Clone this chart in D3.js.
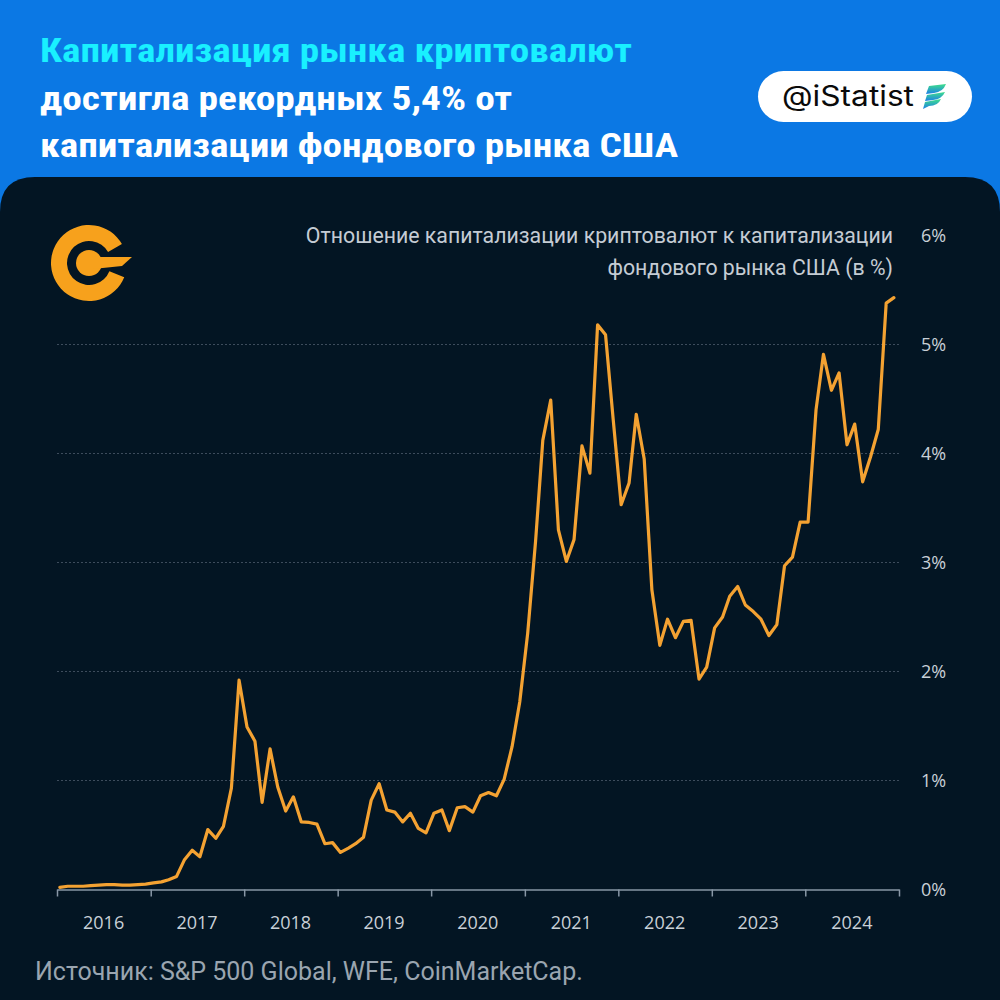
<!DOCTYPE html>
<html><head><meta charset="utf-8">
<script src="https://cdn.jsdelivr.net/npm/d3@7"></script>
<style>html,body{margin:0;padding:0;background:#0b78e4;}svg{display:block;}</style>
</head><body>
<svg id="c" width="1000" height="1000"></svg>
<script>
// ---- data ----
const startYear = 2016;
const values = [
 0.02,0.03,0.03,0.03,0.035,0.04,0.045,0.045,0.04,0.04,0.045,0.05,
 0.06,0.07,0.09,0.12,0.27,0.36,0.30,0.55,0.47,0.58,0.93,1.92,
 1.49,1.36,0.80,1.29,0.94,0.72,0.85,0.62,0.615,0.60,0.42,0.43,
 0.34,0.38,0.42,0.48,0.82,0.97,0.73,0.71,0.62,0.70,0.56,0.52,
 0.70,0.73,0.54,0.75,0.76,0.71,0.86,0.89,0.86,1.01,1.31,1.72,
 2.35,3.20,4.12,4.49,3.30,3.01,3.21,4.07,3.82,5.18,5.09,4.31,
 3.53,3.73,4.36,3.95,2.75,2.24,2.48,2.31,2.46,2.47,1.93,2.04,
 2.40,2.50,2.69,2.78,2.61,2.55,2.48,2.33,2.43,2.97,3.05,3.37,
 3.37,4.40,4.91,4.58,4.74,4.08,4.27,3.74,3.97,4.22,5.38,5.43
];
const yearLabels = ["2016","2017","2018","2019","2020","2021","2022","2023","2024"];
const yTicks = [0,1,2,3,4,5,6];
const titleLines = ["Капитализация рынка криптовалют","достигла рекордных 5,4% от","капитализации фондового рынка США"];
const subtitleLines = ["Отношение капитализации криптовалют к капитализации","фондового рынка США (в %)"];
const sourceText = "Источник: S&P 500 Global, WFE, CoinMarketCap.";
const badgeText = "@iStatist";

const svg = d3.select("#c");
// background
svg.append("rect").attr("width",1000).attr("height",1000).attr("fill","#0b78e4");
svg.append("path").attr("fill","#031523")
  .attr("d","M0,212 Q0,177 35,177 L965,177 Q1000,177 1000,212 L1000,1000 L0,1000 Z");

// title
const tw = [592,472,638];
svg.selectAll("text.title").data(titleLines).join("text")
  .attr("x",40).attr("y",(d,i)=>62+i*47.5)
  .attr("fill",(d,i)=>i===0?"#19f0ff":"#ffffff")
  .attr("font-family","'Liberation Sans Narrow','Roboto Condensed','Arial Narrow',Roboto,sans-serif")
  .attr("font-weight","bold").attr("font-size",33)
  .attr("textLength",(d,i)=>tw[i]).attr("lengthAdjust","spacingAndGlyphs")
  .text(d=>d);

// badge
svg.append("rect").attr("x",758).attr("y",71).attr("width",214).attr("height",51).attr("rx",25.5).attr("fill","#ffffff");
svg.append("text").attr("x",782).attr("y",106).attr("font-family","Inter,Roboto,sans-serif").attr("font-size",28)
  .attr("fill","#0a0a0a").attr("textLength",132).attr("lengthAdjust","spacingAndGlyphs").text(badgeText);
const defs = svg.append("defs");
const g1 = defs.append("linearGradient").attr("id","lg").attr("x1","0").attr("y1","0").attr("x2","0").attr("y2","1");
g1.append("stop").attr("offset","0").attr("stop-color","#3fe08a");
g1.append("stop").attr("offset","1").attr("stop-color","#1c7fe6");
const leaf = svg.append("g").attr("fill","url(#lg)");
leaf.append("path").attr("d","M929,86 L946,84 Q943,92 934,93 L926,94 Z");
leaf.append("path").attr("d","M927,95 L945,92 Q942,99 933,100 L925,101 Z");
leaf.append("path").attr("d","M925,102 L941,99 Q938,106 929,106 L923,109 Z");

// logo
const logo = svg.append("g").attr("transform","translate(89,263)").attr("fill","#f7a11c");
logo.append("path").attr("d", d3.arc()({innerRadius:22,outerRadius:38,startAngle:112*Math.PI/180,endAngle:420*Math.PI/180}));
logo.append("circle").attr("r",13);
logo.append("path").attr("d","M4,-6 L43,-6 L33,3 L4,6 Z");

// scales
const x = d3.scaleUtc().domain([new Date(Date.UTC(startYear,0,1)), new Date(Date.UTC(startYear+9,0,1))]).range([57,899]);
const y = d3.scaleLinear().domain([0,6]).range([889.5,235.5]);
const dates = values.map((v,i)=>new Date(Date.UTC(startYear, i, 12)));

// grid
svg.append("g").selectAll("line").data(yTicks.filter(t=>t>0&&t<6)).join("line")
  .attr("x1",57).attr("x2",899).attr("y1",d=>y(d)).attr("y2",d=>y(d))
  .attr("stroke","#3d4c5c").attr("stroke-width",1).attr("stroke-dasharray","2,2");

// x axis
const xAxis = d3.axisBottom(x).tickValues(d3.range(0,10).map(k=>new Date(Date.UTC(startYear+k,0,1)))).tickFormat("").tickSize(7).tickSizeOuter(0);
const gx = svg.append("g").attr("transform",`translate(0,${y(0)})`).call(xAxis);
gx.select(".domain").attr("stroke","#8897a6").attr("stroke-width",1.5);
gx.selectAll(".tick line").attr("stroke","#8897a6").attr("stroke-width",1.5);
svg.append("g").selectAll("text").data(yearLabels).join("text")
  .attr("x",d=>x(new Date(Date.UTC(+d,6,1)))).attr("y",929)
  .attr("text-anchor","middle").attr("fill","#c9d0d7").attr("font-family","'Open Sans',Roboto,sans-serif")
  .attr("font-size",18).attr("font-weight",500).text(d=>d);

// y labels
svg.append("g").selectAll("text").data(yTicks).join("text")
  .attr("x",921).attr("y",d=>y(d)+6.5).attr("fill","#c9d0d7")
  .attr("font-family","'Open Sans',Roboto,sans-serif").attr("font-size",18).attr("font-weight",500)
  .text(d=>d+"%");

// subtitle
svg.append("g").selectAll("text").data(subtitleLines).join("text")
  .attr("x",893).attr("y",(d,i)=>243+i*32).attr("text-anchor","end")
  .attr("fill","#c5ccd4").attr("font-family","Roboto,sans-serif").attr("font-size",21.3).text(d=>d);

// line
svg.append("path").datum(values)
  .attr("fill","none").attr("stroke","#f4a232").attr("stroke-width",3.2).attr("stroke-linejoin","round").attr("stroke-linecap","round")
  .attr("d", d3.line().x((d,i)=>x(dates[i])).y(d=>y(d)));

// source
svg.append("text").attr("x",35).attr("y",980).attr("fill","#9aa5b0")
  .attr("font-family","Roboto,sans-serif").attr("font-size",25).text(sourceText);
</script>
</body></html>
